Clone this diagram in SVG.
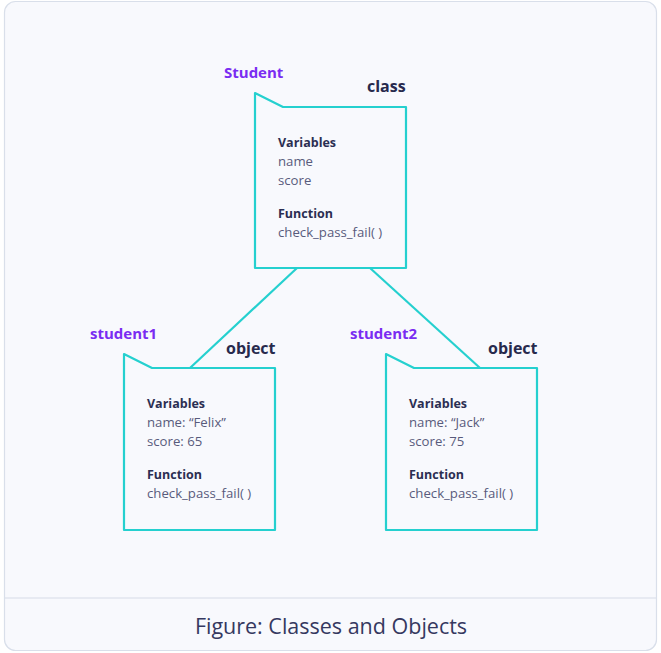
<svg xmlns="http://www.w3.org/2000/svg" width="661" height="653" viewBox="0 0 661 653">
<style>
.box{fill:none;stroke:#25d0cf;stroke-width:2.2;stroke-linejoin:round}
.conn{stroke:#25d0cf;stroke-width:2.2;fill:none}
.name{font-family:"Open Sans","Liberation Sans",sans-serif;font-weight:700;font-size:15px;fill:#7a2cf2}
.kind{font-family:"Open Sans","Liberation Sans",sans-serif;font-weight:700;font-size:16px;fill:#272a4d}
.hd{font-family:"Open Sans","Liberation Sans",sans-serif;font-weight:700;font-size:12.5px;fill:#2b2e52}
.tx{font-family:"Open Sans","Liberation Sans",sans-serif;font-size:13.2px;fill:#585b7c}
.cap{font-family:"Open Sans","Liberation Sans",sans-serif;font-size:21.5px;fill:#353860}
</style>
<rect x="4.5" y="1.5" width="652" height="649" rx="11" fill="#f8f9fd" stroke="#d9dfea" stroke-width="1.2"/>
<line x1="5" y1="598" x2="656" y2="598" stroke="#d5dbe7" stroke-width="1.2"/>
<g id="connectors">
<line class="conn" x1="297" y1="268" x2="190" y2="368"/>
<line class="conn" x1="370" y1="268" x2="480" y2="368"/>
</g>
<g id="Student">
<path class="box" d="M255,93 L283,107 L406,107 L406,268 L255,268 Z"/>
<text class="name" x="224" y="78">Student</text>
<text class="kind" x="367" y="92">class</text>
<text class="hd" x="278" y="147">Variables</text>
<text class="tx" x="278" y="166">name</text>
<text class="tx" x="278" y="185">score</text>
<text class="hd" x="278" y="218">Function</text>
<text class="tx" x="278" y="237">check_pass_fail( )</text>
</g>
<g id="student1">
<path class="box" d="M124,354 L152,368 L275,368 L275,530 L124,530 Z"/>
<text class="name" x="90" y="339">student1</text>
<text class="kind" x="226" y="354">object</text>
<text class="hd" x="147" y="408">Variables</text>
<text class="tx" x="147" y="427">name: “Felix”</text>
<text class="tx" x="147" y="446">score: 65</text>
<text class="hd" x="147" y="479">Function</text>
<text class="tx" x="147" y="498">check_pass_fail( )</text>
</g>
<g id="student2">
<path class="box" d="M386,354 L414,368 L537,368 L537,530 L386,530 Z"/>
<text class="name" x="350" y="339">student2</text>
<text class="kind" x="488" y="354">object</text>
<text class="hd" x="409" y="408">Variables</text>
<text class="tx" x="409" y="427">name: “Jack”</text>
<text class="tx" x="409" y="446">score: 75</text>
<text class="hd" x="409" y="479">Function</text>
<text class="tx" x="409" y="498">check_pass_fail( )</text>
</g>
<text class="cap" x="331" y="634" text-anchor="middle">Figure: Classes and Objects</text>
</svg>
